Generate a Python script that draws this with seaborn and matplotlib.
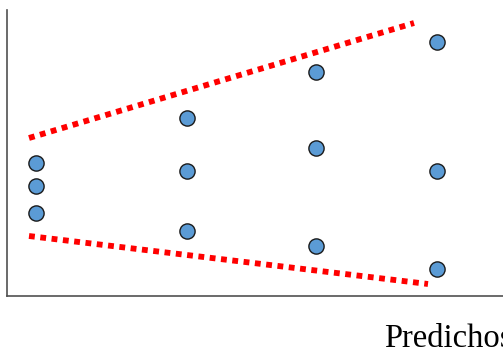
import matplotlib
matplotlib.use("Agg")
import matplotlib.pyplot as plt
import seaborn as sns
import pandas as pd

# ── Data (arbitrary units) ─────────────────────────────────────────────────────
pred_x = [29, 29, 29, 180, 180, 180, 309, 309, 309, 430, 430, 430]
resid_y = [133, 110, 83, 178, 125, 65, 224, 148, 50, 254, 125, 27]

upper_x = [22, 407]
upper_y = [158, 273]
lower_x = [22, 421]
lower_y = [60, 12]

df = pd.DataFrame({"pred": pred_x, "resid": resid_y})

sns.set_style("white")
plt.rcParams["font.family"] = ["Liberation Serif", "DejaVu Serif"]

fig = plt.figure(figsize=(5.03, 3.51), dpi=100)
ax = fig.add_axes([7 / 503, 55 / 351, 496 / 503, 286 / 351])

# envelope lines (dotted red)
for lx, ly in [(upper_x, upper_y), (lower_x, lower_y)]:
    ax.plot(lx, ly, color="#FF0000", lw=4.2, linestyle=(0, (1.0, 0.95)),
            dash_capstyle="butt")

sns.scatterplot(data=df, x="pred", y="resid", ax=ax, s=120,
                color="#5B9BD5", edgecolor="#1a1a1a", linewidth=1.0, zorder=3)

ax.set_xlim(0, 496)
ax.set_ylim(0, 286)
ax.set_xticks([])
ax.set_yticks([])
ax.set_xlabel("")
ax.set_ylabel("")
for side in ["top", "right"]:
    ax.spines[side].set_visible(False)
for side in ["left", "bottom"]:
    ax.spines[side].set_color("#505050")
    ax.spines[side].set_linewidth(1.2)

fig.text(384 / 503, 1 - 347 / 351, "Predichos", fontsize=23.5,
         ha="left", va="baseline", color="black")

fig.savefig("out.png", dpi=100)
